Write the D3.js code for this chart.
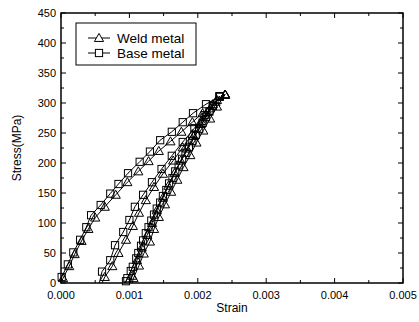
<!DOCTYPE html>
<html>
<head>
<meta charset="utf-8">
<script src="https://cdn.jsdelivr.net/npm/d3@7"></script>
<style>
  html, body { margin: 0; padding: 0; background: #fff; }
  svg { display: block; font-family: "Liberation Sans", Arial, sans-serif; }
</style>
</head>
<body>
<svg id="chart" width="419" height="322"></svg>
<script>
// ---- data (strain, stress MPa) ----
const seriesNames = ["Weld metal", "Base metal"];
const xTicks = [0, 0.001, 0.002, 0.003, 0.004, 0.005];
const xTickLabels = ["0.000", "0.001", "0.002", "0.003", "0.004", "0.005"];
const yTicks = [0, 50, 100, 150, 200, 250, 300, 350, 400, 450];

const weldLoading = [[0,0],[0.00003,8],[0.00012,28],[0.0002,48],[0.0003,70],[0.0004,90],[0.0005,109],[0.00064,127],[0.0008,147],[0.00097,168],[0.00113,186],[0.00128,203],[0.00143,220],[0.0016,236],[0.00176,252],[0.00192,268],[0.00207,283],[0.00222,298],[0.0024,314]];
const weldCycle2 = [[0.0006,0],[0.00064,10],[0.00075,28],[0.00084,50],[0.00095,72],[0.00105,95],[0.00114,117],[0.00124,138],[0.00136,160],[0.00149,182],[0.00164,204],[0.00178,226],[0.00192,248],[0.00205,270],[0.00218,291],[0.00228,305],[0.0024,314]];
const weldCycle3a = [[0.00104,0],[0.00106,8],[0.00114,29],[0.00121,49],[0.0013,69],[0.00136,90],[0.00143,110],[0.00152,131],[0.00161,152],[0.0017,172],[0.00179,193],[0.00189,213],[0.00198,234],[0.00208,254],[0.00218,274],[0.00228,294],[0.0024,314]];
const weldCycle3b = [[0.00101,0],[0.00104,12],[0.00111,38],[0.00118,59],[0.00126,80],[0.00133,100],[0.0014,121],[0.00149,142],[0.00157,162],[0.00166,183],[0.00175,204],[0.00184,224],[0.00194,245],[0.00204,265],[0.00214,285],[0.00226,302],[0.0024,314]];

const baseLoading = [[0,0],[0.00001,10],[0.0001,31],[0.00018,51],[0.00028,72],[0.00037,93],[0.00044,113],[0.00058,130],[0.00072,149],[0.00084,165],[0.00098,183],[0.00115,202],[0.0013,219],[0.00145,238],[0.00162,252],[0.00178,268],[0.00193,283],[0.00212,298],[0.00232,311]];
const baseCycle2 = [[0.00056,0],[0.0006,19],[0.00072,38],[0.00079,63],[0.00091,85],[0.001,105],[0.00108,127],[0.0012,147],[0.00133,168],[0.00147,190],[0.00162,212],[0.00178,235],[0.00195,258],[0.0021,280],[0.00222,296],[0.00232,311]];
const baseCycle3a = [[0.00094,0],[0.00097,8],[0.00105,27],[0.00113,50],[0.0012,71],[0.00128,93],[0.00136,114],[0.00145,134],[0.00154,155],[0.00163,175],[0.00172,196],[0.00182,217],[0.00192,237],[0.00202,257],[0.00212,277],[0.00222,295],[0.00232,311]];
const baseCycle3b = [[0.00092,0],[0.00095,3],[0.00102,20],[0.0011,41],[0.00117,62],[0.00124,83],[0.00132,104],[0.0014,124],[0.00149,145],[0.00158,166],[0.00167,186],[0.00177,207],[0.00187,227],[0.00197,247],[0.00207,267],[0.00217,286],[0.00232,311]];

const weldBranches = [weldLoading, weldCycle2, weldCycle3a, weldCycle3b];
const baseBranches = [baseLoading, baseCycle2, baseCycle3a, baseCycle3b];

// ---- layout ----
const svg = d3.select("#chart");
const x = d3.scaleLinear().domain([0, 0.005]).range([61, 403]);
const y = d3.scaleLinear().domain([0, 450]).range([283, 13]);

const line = d3.line().x(d => x(d[0])).y(d => y(d[1]));

function drawMarker(g, type, cx, cy, fill) {
  if (type === "tri") {
    const s = 4.6;
    g.append("path")
      .attr("d", `M${cx},${cy - s} L${cx + s},${cy + s * 0.75} L${cx - s},${cy + s * 0.75} Z`)
      .attr("fill", fill).attr("stroke", "#000").attr("stroke-width", 1);
  } else {
    const s = 3.6;
    g.append("rect")
      .attr("x", cx - s).attr("y", cy - s).attr("width", 2 * s).attr("height", 2 * s)
      .attr("fill", fill).attr("stroke", "#000").attr("stroke-width", 1);
  }
}

const plot = svg.append("g");
function drawSeries(branches, type) {
  branches.forEach(b => {
    plot.append("path").datum(b).attr("d", line)
      .attr("fill", "none").attr("stroke", "#000").attr("stroke-width", 1);
  });
  branches.forEach(b => {
    b.forEach(d => { if (d[1] > 0) drawMarker(plot, type, x(d[0]), y(d[1]), "none"); });
  });
}
drawSeries(baseBranches, "sq");
drawSeries(weldBranches, "tri");

// ---- frame & ticks (inward, all four sides) ----
const frame = svg.append("g");
frame.append("rect").attr("x", 61).attr("y", 13).attr("width", 342).attr("height", 270)
  .attr("fill", "none").attr("stroke", "#000").attr("stroke-width", 1.5);

const xMinor = d3.range(0, 0.0050001, 0.0005);
const yMinor = d3.range(0, 451, 25);
xMinor.forEach((v, i) => {
  const len = (i % 2 === 0) ? 5 : 3;
  frame.append("line").attr("x1", x(v)).attr("x2", x(v)).attr("y1", 283).attr("y2", 283 - len).attr("stroke", "#000");
  frame.append("line").attr("x1", x(v)).attr("x2", x(v)).attr("y1", 13).attr("y2", 13 + len).attr("stroke", "#000");
});
yMinor.forEach((v, i) => {
  const len = (i % 2 === 0) ? 5 : 3;
  frame.append("line").attr("x1", 61).attr("x2", 61 + len).attr("y1", y(v)).attr("y2", y(v)).attr("stroke", "#000");
  frame.append("line").attr("x1", 403).attr("x2", 403 - len).attr("y1", y(v)).attr("y2", y(v)).attr("stroke", "#000");
});

// tick labels
xTicks.forEach((v, i) => {
  svg.append("text").attr("x", x(v)).attr("y", 299).attr("text-anchor", "middle")
    .attr("font-size", 11).text(xTickLabels[i]);
});
yTicks.forEach(v => {
  svg.append("text").attr("x", 56).attr("y", y(v) + 4).attr("text-anchor", "end")
    .attr("font-size", 11).text(v);
});

// axis titles
svg.append("text").attr("x", 232).attr("y", 312).attr("text-anchor", "middle")
  .attr("font-size", 12).text("Strain");
svg.append("text").attr("transform", "translate(21,148) rotate(-90)").attr("text-anchor", "middle")
  .attr("font-size", 12).text("Stress(MPa)");

// legend
const lg = svg.append("g");
lg.append("rect").attr("x", 76).attr("y", 23).attr("width", 120).attr("height", 42)
  .attr("fill", "white").attr("stroke", "#000").attr("stroke-width", 1);
const legendTypes = ["tri", "sq"];
seriesNames.forEach((name, i) => {
  const cy = 38 + i * 15;
  lg.append("line").attr("x1", 88).attr("x2", 110).attr("y1", cy).attr("y2", cy).attr("stroke", "#000");
  drawMarker(lg, legendTypes[i], 99, cy, "white");
  lg.append("text").attr("x", 117).attr("y", cy + 4.5).attr("font-size", 13.5).text(name);
});
</script>
</body>
</html>
